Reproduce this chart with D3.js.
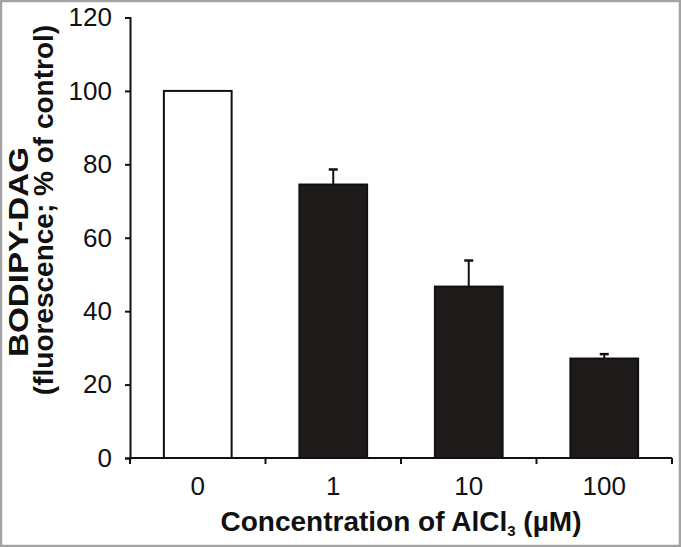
<!DOCTYPE html>
<html>
<head>
<meta charset="utf-8">
<script src="https://cdn.jsdelivr.net/npm/d3@7"></script>
<style>
  html, body { margin: 0; padding: 0; background: #fff; }
  text { font-family: "Liberation Sans", Arial, sans-serif; }
</style>
</head>
<body>
<script>
const categories = ["0", "1", "10", "100"];
const values = [100, 74.5, 46.7, 27.1];
const errors = [0, 4.1, 7.1, 1.2];
const yTicks = [0, 20, 40, 60, 80, 100, 120];

const W = 681, H = 547;
const svg = d3.select("body").append("svg").attr("width", W).attr("height", H);

svg.append("rect").attr("x", 1).attr("y", 1).attr("width", W - 2).attr("height", H - 2)
  .attr("fill", "#fff").attr("stroke", "#a3a3a3").attr("stroke-width", 2.5);

const x = d3.scaleBand().domain(categories).range([130, 672]).paddingInner(0.5).paddingOuter(0.25);
const y = d3.scaleLinear().domain([0, 120]).range([458, 17.5]);

// bars
svg.selectAll("rect.bar").data(values).enter().append("rect")
  .attr("class", "bar")
  .attr("x", (d, i) => x(categories[i]))
  .attr("y", d => y(d))
  .attr("width", x.bandwidth())
  .attr("height", d => y(0) - y(d))
  .attr("fill", (d, i) => i === 0 ? "#fff" : "#1f1b1a")
  .attr("stroke", "#111")
  .attr("stroke-width", 2);

// error bars
const eb = svg.selectAll("g.err").data(values.map((v, i) => ({ v, e: errors[i], c: categories[i] })).filter(d => d.e > 0))
  .enter().append("g").attr("class", "err");
eb.append("line")
  .attr("x1", d => x(d.c) + x.bandwidth() / 2).attr("x2", d => x(d.c) + x.bandwidth() / 2)
  .attr("y1", d => y(d.v)).attr("y2", d => y(d.v + d.e))
  .attr("stroke", "#111").attr("stroke-width", 2);
eb.append("line")
  .attr("x1", d => x(d.c) + x.bandwidth() / 2 - 4.5).attr("x2", d => x(d.c) + x.bandwidth() / 2 + 4.5)
  .attr("y1", d => y(d.v + d.e)).attr("y2", d => y(d.v + d.e))
  .attr("stroke", "#111").attr("stroke-width", 2.5);

// y axis
const yAxis = d3.axisLeft(y).tickValues(yTicks).tickSize(5).tickPadding(13);
const gy = svg.append("g").attr("transform", "translate(130,0)").call(yAxis);
gy.select(".domain").attr("stroke", "#111").attr("stroke-width", 2);
gy.selectAll(".tick line").attr("stroke", "#111").attr("stroke-width", 2);
gy.selectAll(".tick text").attr("font-size", 26).attr("fill", "#111")
  .attr("font-family", "'Liberation Sans', Arial, sans-serif");

// x axis
const gx = svg.append("g").attr("transform", "translate(0,458)");
gx.append("line").attr("x1", x.range()[0]).attr("x2", x.range()[1]).attr("y1", 0).attr("y2", 0)
  .attr("stroke", "#111").attr("stroke-width", 2);
const tickPos = [x.range()[0]].concat(categories.slice(1).map(c => x(c) - (x.step() - x.bandwidth()) / 2), [x.range()[1]]);
gx.selectAll("line.tk").data(tickPos).enter().append("line").attr("class", "tk")
  .attr("x1", d => d).attr("x2", d => d).attr("y1", 0).attr("y2", 6)
  .attr("stroke", "#111").attr("stroke-width", 2);
gx.selectAll("text.tl").data(categories).enter().append("text").attr("class", "tl")
  .attr("x", d => x(d) + x.bandwidth() / 2).attr("y", 37)
  .attr("text-anchor", "middle").attr("font-size", 26).attr("fill", "#111").text(d => d);

// x label
const xl = svg.append("text").attr("x", 401).attr("y", 531)
  .attr("text-anchor", "middle").attr("font-size", 28).attr("font-weight", "bold").attr("fill", "#111");
xl.append("tspan").text("Concentration of AlCl");
xl.append("tspan").attr("font-size", 15).attr("dy", 5).text("3");
xl.append("tspan").attr("dy", -5).text(" (µM)");

// y label
svg.append("text").attr("transform", "translate(28,252) rotate(-90)")
  .attr("text-anchor", "middle").attr("font-size", 28).attr("font-weight", "bold").attr("fill", "#111")
  .attr("textLength", 210).attr("lengthAdjust", "spacingAndGlyphs")
  .text("BODIPY-DAG");
svg.append("text").attr("transform", "translate(53,210) rotate(-90)")
  .attr("text-anchor", "middle").attr("font-size", 28).attr("font-weight", "bold").attr("fill", "#111")
  .text("(fluorescence; % of control)");
</script>
</body>
</html>
